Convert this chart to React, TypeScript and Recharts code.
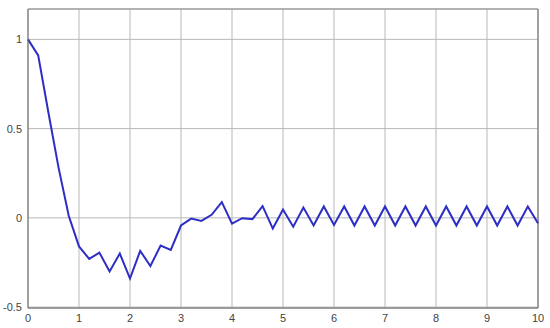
import React from 'react';
import { LineChart, Line, XAxis, YAxis, CartesianGrid, ReferenceLine } from 'recharts';

// samples every 0.2 from 0 to 10
const times = [
  0, 0.2, 0.4, 0.6, 0.8, 1, 1.2, 1.4, 1.6, 1.8, 2, 2.2, 2.4, 2.6, 2.8, 3, 3.2, 3.4, 3.6, 3.8,
  4, 4.2, 4.4, 4.6, 4.8, 5, 5.2, 5.4, 5.6, 5.8, 6, 6.2, 6.4, 6.6, 6.8, 7, 7.2, 7.4, 7.6, 7.8,
  8, 8.2, 8.4, 8.6, 8.8, 9, 9.2, 9.4, 9.6, 9.8, 10,
];

const response = [
  1, 0.91, 0.59, 0.28, 0.01, -0.16, -0.23, -0.195, -0.3, -0.2, -0.34, -0.185, -0.27, -0.155, -0.18, -0.043, -0.004, -0.017, 0.017, 0.088,
  -0.032, -0.002, -0.007, 0.066, -0.06, 0.047, -0.05, 0.058, -0.043, 0.064, -0.04, 0.064, -0.043, 0.064, -0.043, 0.064, -0.043, 0.064, -0.043, 0.064,
  -0.043, 0.064, -0.043, 0.064, -0.043, 0.064, -0.043, 0.064, -0.043, 0.064, -0.03,
];

const xTicks = [0, 1, 2, 3, 4, 5, 6, 7, 8, 9, 10];
const yTicks = [-0.5, 0, 0.5, 1];

const data = times.map((t, i) => ({ x: t, y: response[i] }));

const Y_MIN = -0.505;
const Y_MAX = 1.17;

export default function App() {
  return (
    <div style={{ position: 'absolute', left: 0, top: 0, width: 550, height: 328, background: '#fff' }}>
      <LineChart width={550} height={328} data={data} margin={{ top: 9, right: 12, bottom: 0, left: 0 }}>
        <CartesianGrid stroke="#b8b8b8" strokeWidth={1} />
        <XAxis
          type="number"
          dataKey="x"
          domain={[0, 10]}
          ticks={xTicks}
          interval={0}
          height={20}
          tickLine={false}
          tickSize={4}
          tickMargin={2}
          stroke="#666"
          tick={{ fontSize: 11, fill: '#444', fontFamily: 'Arial, "Liberation Sans", sans-serif' }}
        />
        <YAxis
          type="number"
          domain={[Y_MIN, Y_MAX]}
          ticks={yTicks}
          width={28}
          tickLine={false}
          tickSize={4}
          tickMargin={2}
          stroke="#666"
          tick={{ fontSize: 11, fill: '#444', fontFamily: 'Arial, "Liberation Sans", sans-serif' }}
        />
        <ReferenceLine y={Y_MAX} stroke="#888" />
        <ReferenceLine x={10} stroke="#666" />
        <Line
          type="linear"
          dataKey="y"
          stroke="#2e2ec4"
          strokeWidth={2}
          dot={false}
          isAnimationActive={false}
        />
      </LineChart>
    </div>
  );
}
